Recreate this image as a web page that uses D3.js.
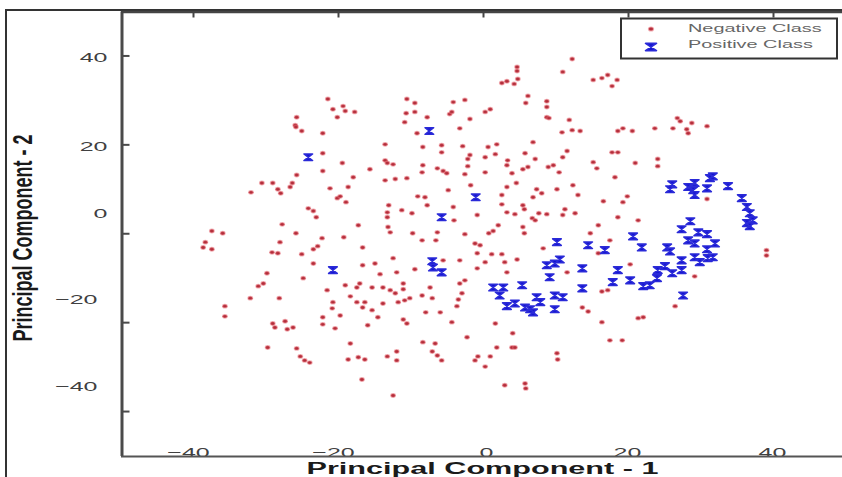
<!DOCTYPE html>
<html><head><meta charset="utf-8">
<script src="https://cdn.jsdelivr.net/npm/d3@7"></script>
<style>html,body{margin:0;padding:0;background:#fff;overflow:hidden}</style>
</head><body><svg id="c" width="842" height="477"></svg>
<script>
const xTicks = [-40, -20, 0, 20, 40];
const yTicks = [-40, -20, 0, 20, 40];
const xTitle = "Principal Component - 1";
const yTitle = "Principal Component - 2";
const legendLabels = ["Negative Class", "Positive Class"];

const negativeClass = [
[-21.4,30.2],[-20.7,27.9],[-19.3,28.6],[-19.0,27.5],[-17.7,27.3],[-20.1,26.1],[-25.7,26.1],[-25.9,24.3],[-25.8,23.9],[-25.0,23.0],
[-22.1,22.5],[-13.5,20.0],[-22.1,18.0],[-19.4,15.8],[-13.5,16.4],[-13.2,15.8],[-12.4,15.5],[-22.1,14.0],[-15.6,14.4],[-25.7,13.1],
[-17.9,12.6],[-13.5,11.9],[-12.1,12.2],[-30.5,11.3],[-29.0,11.3],[-28.3,9.9],[-27.9,9.0],[-26.6,10.4],[-26.3,11.3],[-32.0,9.2],
[-21.1,10.1],[-18.6,10.4],[-20.1,7.9],[-19.7,8.3],[-18.9,7.0],[-13.0,6.3],[-24.1,5.6],[-23.4,5.0],[-23.0,3.6],[-13.2,4.7],
[-13.2,3.6],[-27.7,2.0],[-17.2,1.8],[-13.1,1.4],[-12.8,0.2],[-37.4,0.5],[-35.9,0.0],[-25.8,0.0],[-22.2,-1.1],[-19.2,-0.9],
[12.3,39.2],[11.0,36.3],[15.2,34.5],[4.7,37.4],[4.7,36.5],[4.8,34.7],[2.6,33.8],[3.3,34.2],[4.3,33.6],[6.2,30.9],
[5.9,29.3],[8.8,29.7],[8.8,28.4],[8.8,26.1],[9.1,25.9],[11.9,25.5],[10.9,22.7],[12.3,23.2],[13.4,23.0],[-10.5,30.2],
[-9.4,29.3],[-4.1,29.5],[-2.5,30.0],[-10.6,27.0],[-9.4,27.3],[-10.8,25.0],[-7.7,26.1],[-4.6,26.8],[-4.3,27.3],[-1.8,25.7],
[0.3,27.3],[1.0,27.9],[-9.1,22.5],[-3.2,23.6],[-8.3,19.4],[-5.7,19.8],[-5.7,18.2],[-2.8,19.6],[0.7,19.4],[1.9,20.0],
[1.7,17.8],[6.9,20.5],[5.8,18.0],[-1.8,17.6],[-2.1,16.7],[0.3,17.1],[3.4,16.4],[7.2,16.7],[11.6,18.5],[11.0,17.1],
[15.2,16.0],[15.7,14.6],[-8.3,15.3],[-2.1,15.1],[3.3,15.3],[9.7,15.3],[9.0,14.9],[-10.5,12.4],[-8.4,13.7],[-6.3,14.6],
[-5.5,14.0],[-5.0,13.5],[-2.5,13.3],[0.3,13.7],[4.0,13.5],[5.5,14.4],[6.2,14.9],[10.5,13.7],[-1.7,10.8],[4.6,11.3],
[3.3,10.4],[12.4,10.8],[-4.8,9.7],[7.4,9.9],[8.1,9.0],[10.2,9.9],[13.1,8.6],[-9.0,8.3],[-8.0,8.1],[2.6,8.6],
[6.9,8.1],[-11.2,5.2],[-9.8,4.5],[-7.7,6.3],[-4.1,5.9],[2.6,6.5],[5.5,6.3],[5.7,5.4],[3.3,4.7],[4.4,4.3],
[7.7,4.5],[8.8,4.3],[11.0,4.1],[11.3,5.4],[12.7,4.5],[-4.0,2.9],[-0.8,4.1],[6.8,3.4],[7.2,2.9],[15.9,1.8],
[-9.7,0.0],[-6.3,0.2],[-2.5,-0.2],[0.8,0.0],[1.4,0.5],[2.1,1.8],[5.5,1.4],[5.7,0.0],[14.8,0.0],
[16.4,34.9],[17.2,35.6],[18.5,34.5],[17.8,33.1],[18.6,23.0],[19.3,23.6],[20.6,23.0],[23.7,23.6],[26.2,23.6],[26.8,25.9],
[27.2,25.2],[28.8,24.8],[28.1,23.4],[28.3,22.5],[30.9,24.1],[17.8,18.2],[18.6,18.2],[21.0,15.8],[24.1,16.7],[24.1,15.1],
[18.2,12.6],[19.9,8.3],[19.3,7.0],[16.6,7.2],[30.9,7.7],[18.6,3.6],[21.4,2.9],
[-38.6,-3.2],[-38.3,-2.0],[-37.4,-3.6],[-28.0,-2.0],[-29.1,-4.3],[-28.3,-4.5],[-25.0,-4.7],[-23.4,-3.6],[-22.8,-2.9],[-16.6,-3.2],
[-12.4,-5.6],[-23.4,-6.8],[-16.6,-7.2],[-14.9,-6.8],[-29.8,-9.0],[-24.8,-10.1],[-14.2,-9.2],[-11.9,-8.8],[-31.0,-11.9],[-30.3,-11.3],
[-19.0,-11.7],[-17.4,-12.2],[-17.0,-11.3],[-15.3,-12.2],[-13.8,-12.2],[-12.8,-12.8],[-12.1,-13.5],[-21.5,-12.8],[-32.1,-14.6],[-28.1,-14.6],
[-18.3,-14.2],[-20.7,-15.5],[-17.4,-15.5],[-16.3,-15.5],[-11.7,-15.5],[-35.6,-16.4],[-35.6,-18.7],[-20.8,-16.9],[-16.6,-16.7],[-15.3,-17.3],
[-13.8,-15.8],[-27.3,-19.8],[-29.0,-20.3],[-28.7,-21.2],[-27.0,-21.6],[-26.2,-21.2],[-22.1,-18.9],[-22.1,-20.5],[-19.7,-18.5],[-20.4,-21.4],
[-15.9,-20.7],[-14.5,-18.9],[-18.3,-24.8],[-29.7,-25.7],[-25.7,-25.9],[-25.2,-27.7],[-24.6,-28.6],[-23.9,-29.1],[-18.6,-28.4],[-17.2,-27.9],
[-16.3,-28.4],[-13.2,-27.7],[-11.9,-28.6],[-11.9,-26.6],[-16.7,-32.9],[-12.4,-36.5],
[-8.4,-1.6],[-6.5,-1.6],[-1.1,-2.3],[-0.4,-2.7],[-0.8,-4.5],[1.2,-4.7],[2.6,-4.7],[0.3,-6.5],[3.0,-6.5],[4.7,-5.9],
[8.3,-3.4],[-3.2,-6.1],[-5.5,-6.1],[-9.4,-8.1],[-0.8,-7.9],[3.3,-8.8],[11.6,-8.8],[15.9,-4.5],[-11.0,-11.3],[-11.0,-12.6],
[-10.8,-15.1],[-10.1,-14.6],[-7.3,-12.2],[-8.4,-14.0],[-7.0,-14.6],[-3.2,-11.3],[-2.5,-10.6],[-2.9,-13.5],[-3.4,-14.9],[-3.6,-16.4],
[-7.9,-17.8],[-5.9,-17.8],[-11.0,-19.4],[-10.5,-20.3],[-4.3,-20.0],[1.7,-20.3],[13.7,-16.7],[14.5,-17.6],[4.1,-22.5],[-2.2,-23.4],
[-8.3,-24.5],[-6.6,-24.8],[-7.0,-26.6],[-6.3,-27.5],[-5.7,-28.6],[1.9,-25.7],[4.0,-25.7],[4.4,-25.7],[-0.7,-27.7],[1.0,-27.7],
[-1.1,-28.6],[0.3,-30.0],[10.2,-27.0],[10.3,-28.4],[3.0,-34.2],[5.8,-33.8],[5.9,-34.9],
[17.5,-1.6],[39.1,-3.8],[39.1,-5.0],[20.3,-7.0],[29.2,-9.7],[16.4,-13.1],[17.2,-12.8],[26.5,-16.4],[16.4,-20.0],[21.4,-19.1],
[22.1,-18.9],[17.5,-24.1],[19.2,-24.1]
];

const positiveClass = [
[-24.1,17.1],[-7.4,23.0],[-1.0,8.1],[-5.7,3.6],[-20.7,-8.3],[-7.0,-6.3],[-6.9,-7.7],[-5.7,-8.8],[10.2,-2.0],[14.5,-2.7],
[8.8,-7.2],[9.9,-6.8],[10.6,-5.9],[9.2,-9.9],[13.7,-7.9],[13.7,-12.4],[1.4,-12.2],[2.8,-12.2],[2.3,-14.0],[5.4,-11.7],
[3.3,-16.4],[4.4,-15.8],[5.8,-16.7],[7.4,-14.4],[7.9,-15.5],[6.9,-17.8],[9.9,-14.0],[11.0,-14.4],[9.9,-17.1],[6.5,-17.1],
[26.1,11.0],[25.8,9.9],[28.3,10.4],[29.2,11.3],[29.0,9.7],[29.2,8.6],[30.9,10.1],[31.3,12.4],[31.7,12.8],[33.8,10.6],
[35.7,7.9],[36.4,5.9],[36.8,4.5],[37.2,2.9],[36.4,2.3],[36.8,1.6],[28.6,2.7],[27.4,0.9],[29.7,0.2],[30.9,-0.2],
[28.3,-1.6],[29.2,-2.3],[32.0,-2.3],[30.9,-3.6],[20.7,-0.7],[16.8,-3.8],[21.9,-3.2],[25.4,-3.2],[25.8,-4.1],[27.4,-6.1],
[29.2,-5.4],[29.9,-6.5],[31.0,-5.6],[31.7,-5.4],[25.1,-7.4],[24.1,-8.3],[26.1,-9.0],[27.4,-8.3],[24.0,-10.1],[23.0,-11.7],
[22.1,-11.9],[20.3,-10.6],[18.6,-8.3],[17.9,-11.0],[27.6,-14.0]
];

const SX = 1.85;           // horizontal stretch of the original picture's text
const FONT = "'Liberation Sans', Arial, sans-serif";
const svg = d3.select("#c");
svg.append("rect").attr("width",842).attr("height",477).attr("fill","#fff");

const x = d3.scaleLinear().domain([-50, 50]).range([120.5, 845.5]);
const y = d3.scaleLinear().domain([-50, 50]).range([455.5, 11]);

// outer frame
svg.append("path").attr("d","M6,477V10H842").attr("fill","none").attr("stroke","#333").attr("stroke-width",2);

// points
const pts = svg.append("g");
pts.selectAll("ellipse").data(negativeClass).join("ellipse")
  .attr("cx", d => x(d[0])).attr("cy", d => y(d[1]))
  .attr("rx", 2.2).attr("ry", 1.7)
  .attr("fill", "#b02e3b").attr("stroke", "rgba(230,100,110,0.5)").attr("stroke-width", 1.5);

const hour = "M-4.3,-3.3H4.3L-4.3,3.3H4.3Z";
pts.selectAll("path.pos").data(positiveClass).join("path").attr("class","pos")
  .attr("d", hour).attr("transform", d => `translate(${x(d[0])},${y(d[1])})`)
  .attr("fill", "#1212cf").attr("stroke", "#2a2ad8").attr("stroke-width", 1.6)
  .attr("stroke-linejoin","round");

// left axis
const yg = svg.append("g").attr("transform","translate(121.5,0)")
  .call(d3.axisLeft(y).tickValues(yTicks).tickSizeInner(-8).tickSizeOuter(0));
yg.select(".domain").attr("stroke","#4a4a4a").attr("stroke-width",3);
yg.selectAll(".tick line").attr("stroke","#4a4a4a").attr("stroke-width",2);
yg.selectAll(".tick text")
  .attr("x", 0).attr("dy", 0).attr("text-anchor","end")
  .attr("font-family", FONT).attr("font-size", 13.5).attr("fill", "#404040")
  .attr("transform", d => `translate(${d < 0 ? -24 : -14},${(d <= 0 ? -20.5 + d * 0.13 : 1.5) + 4.8}) scale(${SX},1)`);

// top axis
const tg = svg.append("g").attr("transform","translate(0,11.5)")
  .call(d3.axisTop(x).tickValues(xTicks).tickSizeInner(-6).tickSizeOuter(0).tickFormat(""));
tg.select(".domain").attr("stroke","#444").attr("stroke-width",2.5);
tg.selectAll(".tick line").attr("stroke","#444").attr("stroke-width",2);

// bottom axis
const bg = svg.append("g").attr("transform","translate(0,456)")
  .call(d3.axisBottom(x).tickValues(xTicks).tickSize(0));
bg.selectAll(".tick text")
  .attr("y", 0).attr("dy", 0).attr("text-anchor","middle")
  .attr("font-family", FONT).attr("font-size", 13.5).attr("fill", "#404040")
  .attr("transform", d => `translate(${d < 0 ? -5 : (d === 0 ? 3 : -1)},1) scale(${SX},1)`);
bg.select(".domain").attr("stroke","#555").attr("stroke-width",2).raise();

// axis titles
svg.append("text").text(xTitle)
  .attr("transform", `translate(482.5,473.5) scale(1.8,1)`)
  .attr("text-anchor","middle").attr("font-family",FONT).attr("font-weight","bold")
  .attr("font-size",17).attr("fill","#1a1a1a");
svg.append("text").text(yTitle)
  .attr("transform", `translate(32,238) scale(1.5,1) rotate(-90)`)
  .attr("text-anchor","middle").attr("font-family",FONT).attr("font-weight","bold")
  .attr("font-size",18).attr("fill","#1a1a1a");

// legend
const lg = svg.append("g");
lg.append("rect").attr("x",621).attr("y",18.5).attr("width",216).attr("height",40)
  .attr("fill","#fff").attr("stroke","#333").attr("stroke-width",2);
lg.append("ellipse").attr("cx",651).attr("cy",29).attr("rx",2.4).attr("ry",1.8)
  .attr("fill","#b02e3b").attr("stroke","rgba(230,100,110,0.5)").attr("stroke-width",1.5);
lg.append("path").attr("d","M-5.5,-3.6H5.5L-5.5,3.6H5.5Z").attr("transform","translate(651,47)")
  .attr("fill","#1212cf").attr("stroke","#2a2ad8").attr("stroke-width",1.6).attr("stroke-linejoin","round");
lg.selectAll("text.lab").data(legendLabels).join("text").attr("class","lab")
  .text(d => d)
  .attr("transform", (d,i) => `translate(688,${i === 0 ? 31.8 : 48.2}) scale(1.73,1)`)
  .attr("font-family",FONT).attr("font-size",11.5).attr("fill","#666");
</script></body></html>
